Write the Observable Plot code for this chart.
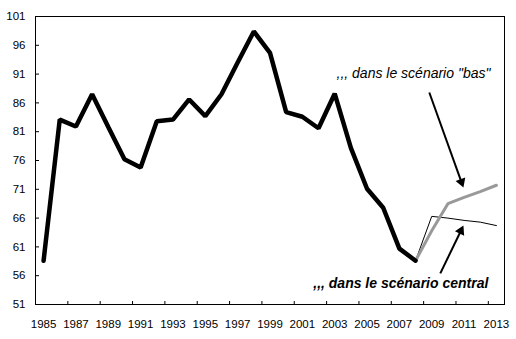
<!DOCTYPE html>
<html><head><meta charset="utf-8">
<script src="https://cdn.jsdelivr.net/npm/d3@7"></script>
<script src="https://cdn.jsdelivr.net/npm/@observablehq/plot@0.6"></script>
<style>body{margin:0;background:#fff}</style>
</head><body><div id="chart"></div>
<script>
const histYears = [1985,1986,1987,1988,1989,1990,1991,1992,1993,1994,1995,1996,1997,1998,1999,2000,2001,2002,2003,2004,2005,2006,2007,2008];
const histValues = [58.6,83.1,81.9,87.5,81.8,76.2,74.8,82.8,83.1,86.6,83.7,87.5,93.0,98.4,94.7,84.4,83.6,81.6,87.6,78.2,71.1,67.8,60.7,58.6];
const projYears = [2008,2009,2010,2011,2012,2013];
const centralValues = [58.6,66.3,66.0,65.6,65.3,64.7];
const basValues = [58.6,63.8,68.5,69.6,70.6,71.7];
const yTicks = [51,56,61,66,71,76,81,86,91,96,101];
const xLabelYears = [1985,1987,1989,1991,1993,1995,1997,1999,2001,2003,2005,2007,2009,2011,2013];
const xTickBounds = [1986.5,1988.5,1990.5,1992.5,1994.5,1996.5,1998.5,2000.5,2002.5,2004.5,2006.5,2008.5,2010.5,2012.5];
const labelTexts = [",,, dans le scénario \"bas\"", ",,, dans le scénario central"];
const labelX = [2012.63, 2012.5];
const labelY = [90.4, 53.8];
const arrowFrom = [[2008.85, 87.8], [2009.53, 56.4]];
const arrowTo = [[2010.96, 71.3], [2010.96, 64.7]];

const hist = histYears.map((x, i) => ({x, y: histValues[i]}));
const central = projYears.map((x, i) => ({x, y: centralValues[i]}));
const bas = projYears.map((x, i) => ({x, y: basValues[i]}));
const arrows = arrowFrom.map((f, i) => ({x1: f[0], y1: f[1], x2: arrowTo[i][0], y2: arrowTo[i][1]}));
const labels = labelTexts.map((t, i) => ({t, x: labelX[i], y: labelY[i]}));

const base = {
  width: 516, height: 339,
  marginTop: 16, marginBottom: 35, marginLeft: 35, marginRight: 12,
  style: {fontFamily: "'Liberation Sans', Arial, sans-serif", background: "#fff", color: "#000"},
  x: {domain: [1984.5, 2013.5], axis: null},
  y: {domain: [51, 101], axis: null}
};

// first pass: get scales to orient the filled arrow heads
const probe = Plot.plot({...base, marks: [Plot.frame()]});
const sx = probe.scale("x"), sy = probe.scale("y");
const headR = 3.8;
const headH = Math.sqrt(Math.PI * headR * headR * 4 / Math.sqrt(3)) * Math.sqrt(3) / 2;
const heads = arrows.map(a => {
  const px1 = sx.apply(a.x1), py1 = sy.apply(a.y1), px2 = sx.apply(a.x2), py2 = sy.apply(a.y2);
  const dx = px2 - px1, dy = py2 - py1, len = Math.hypot(dx, dy);
  const ux = dx / len, uy = dy / len;
  const cx = px2 - ux * headH * 2 / 3, cy = py2 - uy * headH * 2 / 3;
  return {x: sx.invert(cx), y: sy.invert(cy), angle: Math.atan2(dx, -dy) * 180 / Math.PI,
          sx2: sx.invert(px2 - ux * headH * 0.8), sy2: sy.invert(py2 - uy * headH * 0.8), x1: a.x1, y1: a.y1};
});

const chart = Plot.plot({
  ...base,
  marks: [
    Plot.axisY(yTicks, {anchor: "left", tickSize: 0, tickPadding: 10, fontSize: 11.5, tickFormat: d => String(d)}),
    Plot.ruleY(yTicks, {x1: 1984.5, x2: 1984.5, insetRight: -4, stroke: "#000"}),
    Plot.axisX(xLabelYears, {anchor: "bottom", tickSize: 0, tickPadding: 15, fontSize: 11.5, tickFormat: d => String(d)}),
    Plot.ruleX(xTickBounds, {y1: 51, y2: 51, insetTop: -3, stroke: "#000"}),
    Plot.frame({stroke: "#000"}),
    Plot.line(central, {x: "x", y: "y", stroke: "#000", strokeWidth: 1, strokeLinejoin: "miter"}),
    Plot.line(bas, {x: "x", y: "y", stroke: "#999", strokeWidth: 3, strokeLinejoin: "miter"}),
    Plot.line(hist, {x: "x", y: "y", stroke: "#000", strokeWidth: 4.5, strokeLinejoin: "miter"}),
    Plot.link(heads, {x1: "x1", y1: "y1", x2: "sx2", y2: "sy2", stroke: "#000", strokeWidth: 2}),
    Plot.dot(heads, {x: "x", y: "y", symbol: "triangle", r: headR, rotate: "angle", fill: "#000", stroke: "none"}),
    Plot.text(labels.slice(0, 1), {x: "x", y: "y", text: "t", textAnchor: "end", lineAnchor: "bottom", fontSize: 14, fontStyle: "italic", fill: "#000"}),
    Plot.text(labels.slice(1), {x: "x", y: "y", text: "t", textAnchor: "end", lineAnchor: "bottom", fontSize: 14, fontStyle: "italic", fontWeight: "bold", fill: "#000"})
  ]
});
document.getElementById("chart").appendChild(chart);
</script>
</body></html>
